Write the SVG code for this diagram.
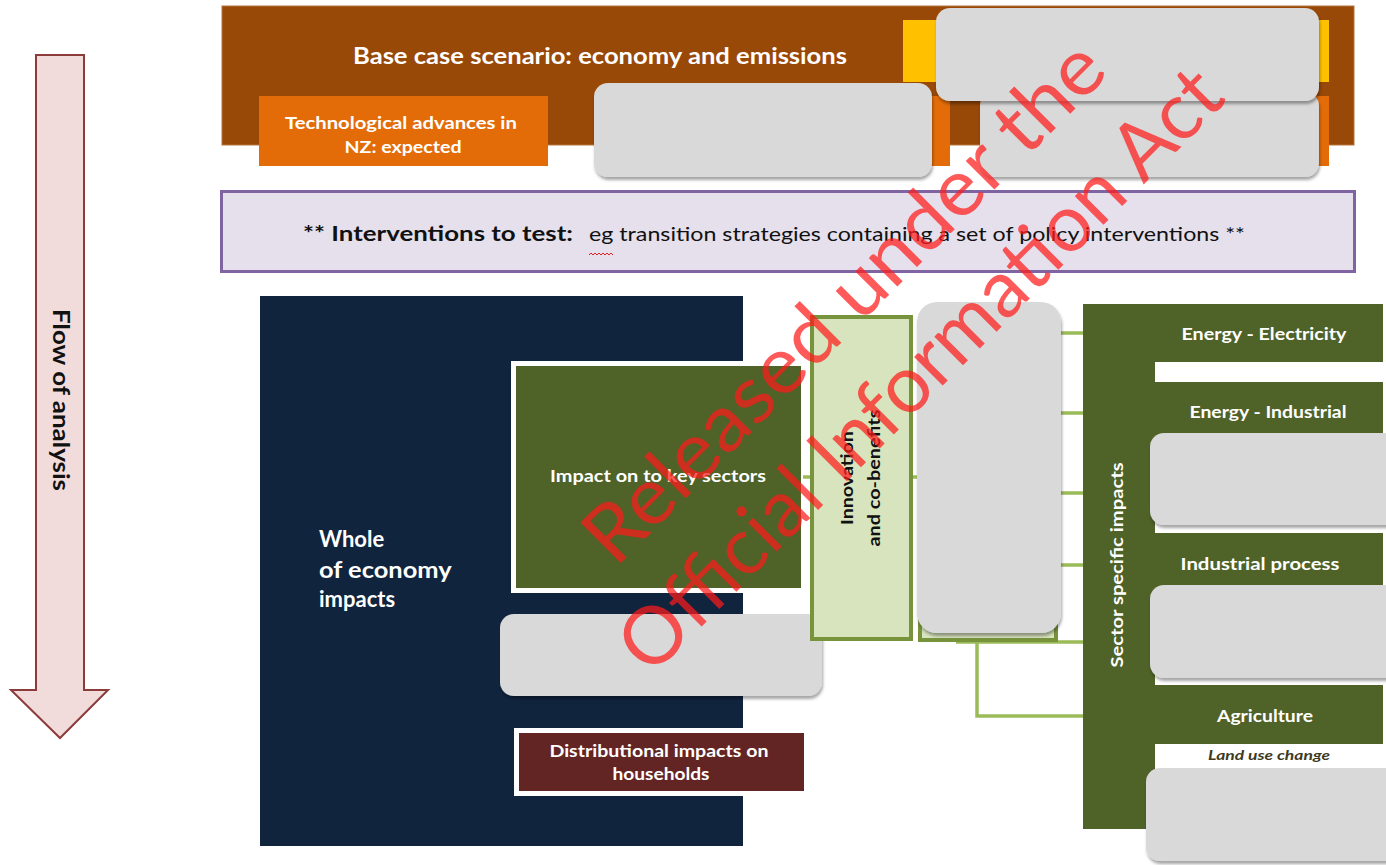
<svg xmlns="http://www.w3.org/2000/svg" width="1386" height="865" viewBox="0 0 1386 865">
  <style>
    .t { font-family: Lato, "Liberation Sans", sans-serif; font-weight: 700; }
    .w { fill: #ffffff; }
    .k { fill: #111111; }
    .blank { fill: #d9d9d9; filter: url(#lift); }
    .olive { fill: #4f6228; }
    .wire { fill: none; stroke: #9bbb59; stroke-width: 3.5; }
    .mark { font-family: Lato, "Liberation Sans", sans-serif; font-weight: 400; font-size: 80px; fill: #ff1a1a; fill-opacity: 0.72; }
  </style>
  <defs>
    <filter id="lift" x="-5%" y="-5%" width="110%" height="120%">
      <feDropShadow dx="1" dy="3" stdDeviation="1.6" flood-color="#000000" flood-opacity="0.35"/>
    </filter>
  </defs>

  <rect width="1386" height="865" fill="#ffffff"/>

  <!-- vertical flow arrow -->
  <g id="flow-arrow">
    <path d="M36,55 H84 V690 H108 L60,738 L11,690 H36 Z" fill="#f2dcdb" stroke="#8c3b3b" stroke-width="2"/>
    <text class="t k" font-size="22" text-anchor="middle" transform="translate(53,400) rotate(90)" textLength="182" lengthAdjust="spacingAndGlyphs">Flow of analysis</text>
  </g>

  <!-- base case band -->
  <g id="base-case">
    <rect x="222" y="6" width="1132" height="139" fill="#984807" stroke="#b8743a" stroke-width="1"/>
    <text class="t w" x="353" y="64" font-size="22" textLength="494" lengthAdjust="spacingAndGlyphs">Base case scenario: economy and emissions</text>
    <rect x="903" y="20" width="426" height="62" fill="#ffc000"/>
    <rect x="600" y="96" width="350" height="70" fill="#e36c09"/>
    <rect x="980" y="96" width="349" height="70" fill="#e36c09"/>
  </g>

  <g id="tech-advances">
    <rect x="259" y="96" width="289" height="70" fill="#e36c09"/>
    <text class="t w" font-size="17" text-anchor="middle">
      <tspan x="403" y="129" textLength="232" lengthAdjust="spacingAndGlyphs">Technological advances in</tspan>
      <tspan x="403" y="153" textLength="117" lengthAdjust="spacingAndGlyphs">NZ: expected</tspan>
    </text>
  </g>

  <g id="blank-top">
    <rect class="blank" x="594" y="83" width="338" height="94" rx="14"/>
    <rect class="blank" x="980" y="92" width="339" height="85" rx="14"/>
    <rect class="blank" x="936" y="8" width="383" height="93" rx="14"/>
  </g>

  <!-- interventions band -->
  <g id="interventions">
    <rect x="221.5" y="191.5" width="1133" height="80" fill="#e5e0ec" stroke="#8064a2" stroke-width="3"/>
    <text class="t k" x="303" y="241" font-size="20" textLength="270" lengthAdjust="spacingAndGlyphs">** Interventions to test:</text>
    <text class="k" x="589" y="241" font-size="20" font-family="Lato, 'Liberation Sans', sans-serif" font-weight="400" textLength="656" lengthAdjust="spacingAndGlyphs">eg transition strategies containing a set of policy interventions **</text>
    <path d="M589,255 l2,-2 l2,2 l2,-2 l2,2 l2,-2 l2,2 l2,-2 l2,2 l2,-2 l2,2 l2,-2 l2,2" fill="none" stroke="#e02020" stroke-width="1"/>
  </g>

  <!-- whole of economy -->
  <g id="whole-economy">
    <rect x="260" y="296" width="483" height="550" fill="#10243e"/>
    <text class="t w" font-size="22">
      <tspan x="319" y="547">Whole</tspan>
      <tspan x="319" y="578" textLength="132" lengthAdjust="spacingAndGlyphs">of economy</tspan>
      <tspan x="319" y="607">impacts</tspan>
    </text>
  </g>

  <!-- connectors -->
  <g id="connectors">
    <line class="wire" x1="800" y1="477" x2="920" y2="477"/>
    <line class="wire" x1="1055" y1="333" x2="1085" y2="333"/>
    <line class="wire" x1="1055" y1="413" x2="1085" y2="413"/>
    <line class="wire" x1="1055" y1="493" x2="1085" y2="493"/>
    <line class="wire" x1="1055" y1="565" x2="1085" y2="565"/>
    <line class="wire" x1="956" y1="642" x2="1085" y2="642"/>
    <polyline class="wire" points="977,642 977,716 1085,716"/>
  </g>

  <g id="key-sectors">
    <rect x="511" y="361" width="292" height="232" fill="#ffffff"/>
    <rect x="516" y="366" width="285" height="222" class="olive"/>
    <text class="t w" x="658" y="482" font-size="17" text-anchor="middle" textLength="216" lengthAdjust="spacingAndGlyphs">Impact on to key sectors</text>
  </g>

  <g id="blank-middle">
    <rect class="blank" x="500" y="614" width="322" height="82" rx="14"/>
  </g>

  <g id="distributional">
    <rect x="514" y="728" width="291" height="68" fill="#ffffff"/>
    <rect x="519" y="733" width="285" height="58" fill="#632523"/>
    <text class="t w" font-size="17" text-anchor="middle">
      <tspan x="661" y="757" textLength="219" lengthAdjust="spacingAndGlyphs">Distributional impacts on</tspan>
      <tspan x="661" y="780" textLength="97" lengthAdjust="spacingAndGlyphs">households</tspan>
    </text>
  </g>

  <g id="innovation">
    <rect x="812" y="317" width="99" height="322" fill="#d7e4bd" stroke="#77933c" stroke-width="4"/>
    <text class="t k" font-size="17" text-anchor="middle" transform="translate(853,476) rotate(-90)">
      <tspan x="0" y="0" textLength="94" lengthAdjust="spacingAndGlyphs">Innovation</tspan>
      <tspan x="-2" y="27" textLength="137" lengthAdjust="spacingAndGlyphs">and co-benefits</tspan>
    </text>
  </g>

  <g id="blank-column">
    <rect x="920" y="330" width="136" height="310" fill="#d7e4bd" stroke="#77933c" stroke-width="4"/>
    <rect class="blank" x="917" y="302" width="144" height="331" rx="20"/>
  </g>

  <!-- sector specific impacts -->
  <g id="sector-impacts">
    <rect x="1083" y="304" width="72" height="525" class="olive"/>
    <rect x="1155" y="304" width="228" height="58" class="olive"/>
    <text class="t w" x="1264" y="340" font-size="17" text-anchor="middle" textLength="165" lengthAdjust="spacingAndGlyphs">Energy - Electricity</text>
    <rect x="1155" y="382" width="228" height="58" class="olive"/>
    <text class="t w" x="1268" y="418" font-size="17" text-anchor="middle" textLength="157" lengthAdjust="spacingAndGlyphs">Energy - Industrial</text>
    <rect x="1155" y="533" width="228" height="60" class="olive"/>
    <text class="t w" x="1260" y="570" font-size="17" text-anchor="middle" textLength="159" lengthAdjust="spacingAndGlyphs">Industrial  process</text>
    <rect x="1155" y="685" width="228" height="59" class="olive"/>
    <text class="t w" x="1265" y="722" font-size="17" text-anchor="middle" textLength="96" lengthAdjust="spacingAndGlyphs">Agriculture</text>
    <text x="1269" y="760" font-size="14" text-anchor="middle" font-family="Lato, 'Liberation Sans', sans-serif" font-style="italic" font-weight="700" fill="#3e3a1e" textLength="122" lengthAdjust="spacingAndGlyphs">Land use change</text>
    <text class="t w" font-size="17" text-anchor="middle" transform="translate(1123,565) rotate(-90)" textLength="205" lengthAdjust="spacingAndGlyphs">Sector specific impacts</text>
  </g>

  <g id="blank-right">
    <rect class="blank" x="1150" y="433" width="250" height="92" rx="14"/>
    <rect class="blank" x="1150" y="585" width="250" height="93" rx="14"/>
    <rect class="blank" x="1146" y="768" width="254" height="93" rx="14"/>
  </g>

  <!-- release stamp across the sheet -->
  <g id="stamp" transform="translate(863,321) rotate(-45)">
    <text class="mark" x="0" y="0" text-anchor="middle" textLength="700" lengthAdjust="spacingAndGlyphs">Released under the</text>
    <text class="mark" x="6" y="102" text-anchor="middle" textLength="816" lengthAdjust="spacingAndGlyphs">Official Information Act</text>
  </g>
</svg>
